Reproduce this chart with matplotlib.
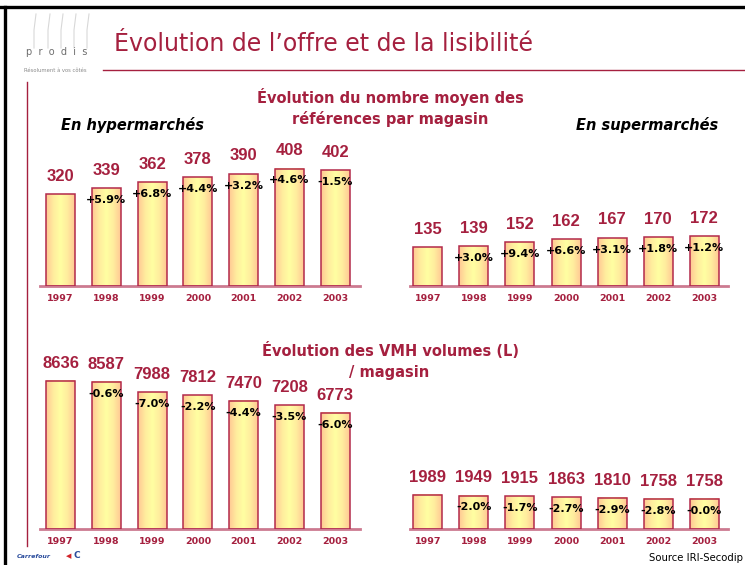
import numpy as np
import matplotlib
matplotlib.use('Agg')
import matplotlib.pyplot as plt
from matplotlib.lines import Line2D
from matplotlib.colors import LinearSegmentedColormap

# ---------------- data ----------------
years = ['1997', '1998', '1999', '2000', '2001', '2002', '2003']
refs_hyper = [320, 339, 362, 378, 390, 408, 402]
refs_hyper_pct = ['', '+5.9%', '+6.8%', '+4.4%', '+3.2%', '+4.6%', '-1.5%']
refs_super = [135, 139, 152, 162, 167, 170, 172]
refs_super_pct = ['', '+3.0%', '+9.4%', '+6.6%', '+3.1%', '+1.8%', '+1.2%']
vmh_hyper = [8636, 8587, 7988, 7812, 7470, 7208, 6773]
vmh_hyper_pct = ['', '-0.6%', '-7.0%', '-2.2%', '-4.4%', '-3.5%', '-6.0%']
vmh_super = [1989, 1949, 1915, 1863, 1810, 1758, 1758]
vmh_super_pct = ['', '-2.0%', '-1.7%', '-2.7%', '-2.9%', '-2.8%', '-0.0%']

title = "Évolution de l’offre et de la lisibilité"
sub1 = ["Évolution du nombre moyen des", "références par magasin"]
sub2 = ["Évolution des VMH volumes (L)", "/ magasin"]

RED = '#A5203F'
EDGE = '#B3294A'
AXIS = '#CC7A90'

W, H = 745, 565
fig = plt.figure(figsize=(W / 100, H / 100), dpi=100)
fig.patch.set_facecolor('white')


def fx(x):
    return x / W


def fy(y):
    return 1 - y / H


grad_cmap = LinearSegmentedColormap.from_list(
    'g', ['#FFC894', '#FFEC9E', '#FFFFA2', '#FFEC9E', '#FFC894'])
grad = np.linspace(0, 1, 64)[None, :]


def panel(rect, xlim, ymax, values, pcts):
    ax = fig.add_axes(rect)
    x = np.arange(len(values))
    bars = ax.bar(x, values, width=0.63, facecolor='none', edgecolor=EDGE,
                  linewidth=1.1, zorder=3)
    for b in bars:
        x0, w, h = b.get_x(), b.get_width(), b.get_height()
        ax.imshow(grad, cmap=grad_cmap, extent=[x0, x0 + w, 0, h],
                  aspect='auto', zorder=2, interpolation='bilinear')
    ax.set_xlim(*xlim)
    ax.set_ylim(0, ymax)
    ax.set_xticks(x)
    ax.set_xticklabels(years, fontsize=6.8, fontweight='bold', color=RED)
    ax.tick_params(axis='x', length=0, pad=6)
    ax.set_yticks([])
    for s in ['top', 'left', 'right']:
        ax.spines[s].set_visible(False)
    ax.spines['bottom'].set_color(AXIS)
    ax.spines['bottom'].set_linewidth(2)
    ax.patch.set_alpha(0)
    for i, (v, p) in enumerate(zip(values, pcts)):
        ax.annotate(str(v), (i, v), xytext=(0, 12.8), textcoords='offset points',
                    ha='center', va='center', fontsize=12, fontweight='bold',
                    color=RED, family='Liberation Sans', annotation_clip=False)
        if p:
            ax.annotate(p, (i, v), xytext=(0, -8.5), textcoords='offset points',
                        ha='center', va='center', fontsize=8, fontweight='bold',
                        color='black', annotation_clip=False, zorder=5)
    return ax


top_b, top_h = fy(285.7), 143.5 / H
bot_b, bot_h = fy(529), 171.4 / H
L_rect = (fx(40), fx(320))
R_rect = (fx(410), fx(318))

panel([L_rect[0], top_b, L_rect[1], top_h], (-0.448, 6.54), 500, refs_hyper, refs_hyper_pct)
panel([R_rect[0], top_b, R_rect[1], top_h], (-0.39, 6.52), 500, refs_super, refs_super_pct)
panel([L_rect[0], bot_b, L_rect[1], bot_h], (-0.448, 6.54), 10000, vmh_hyper, vmh_hyper_pct)
panel([R_rect[0], bot_b, R_rect[1], bot_h], (-0.39, 6.52), 10000, vmh_super, vmh_super_pct)

# ---------------- decorations ----------------
# black slide frame (top and left)
fig.add_artist(Line2D([0, 1], [fy(6.5), fy(6.5)], color='black', lw=2.4))
fig.add_artist(Line2D([fx(4.5), fx(4.5)], [0, fy(6.5)], color='black', lw=2.4))
# red rules
fig.add_artist(Line2D([fx(103), 1], [fy(70), fy(70)], color=RED, lw=1))
fig.add_artist(Line2D([fx(27), fx(27)], [fy(82), fy(546)], color=RED, lw=1))

# title
fig.text(fx(114), fy(44), title, fontsize=17, color=RED, ha='left', va='center')

# subtitles
fig.text(fx(390), fy(97), sub1[0], fontsize=10.5, fontweight='bold', color=RED,
         ha='center', va='center')
fig.text(fx(390), fy(119), sub1[1], fontsize=10.5, fontweight='bold', color=RED,
         ha='center', va='center')
fig.text(fx(390), fy(351), sub2[0], fontsize=10.5, fontweight='bold', color=RED,
         ha='center', va='center')
fig.text(fx(389), fy(373), sub2[1], fontsize=10.5, fontweight='bold', color=RED,
         ha='center', va='center')
fig.text(fx(61), fy(125), "En hypermarchés", fontsize=10.5, fontweight='bold',
         style='italic', color='black', ha='left', va='center')
fig.text(fx(576), fy(125), "En supermarchés", fontsize=10.5, fontweight='bold',
         style='italic', color='black', ha='left', va='center')

# prodis logo
for bx in [36, 50, 63, 76, 89]:
    fig.add_artist(Line2D([fx(bx), fx(bx - 2), fx(bx - 2)], [fy(14), fy(30), fy(48)],
                          color='#D8D8D8', lw=0.8))
fig.text(fx(57), fy(52), "p  r  o  d  i  s", fontsize=7, color='#6E6E6E',
         ha='center', va='center')
fig.text(fx(55), fy(70), "Résolument à vos côtés", fontsize=3.8, color='#8A8A8A',
         ha='center', va='center')

# Carrefour logo
fig.text(fx(17), fy(556), "Carrefour", fontsize=4.5, fontweight='bold', style='italic',
         color='#2A4C9C', ha='left', va='center')
fig.text(fx(66), fy(556), "◀", fontsize=5, color='#D2232A', ha='left', va='center')
fig.text(fx(73), fy(556), "C", fontsize=6.5, fontweight='bold', color='#2A4C9C',
         ha='left', va='center')

# source
fig.text(fx(743), fy(558), "Source IRI-Secodip", fontsize=7.3, color='black',
         ha='right', va='center')

fig.savefig('out.png', dpi=100, facecolor='white')
